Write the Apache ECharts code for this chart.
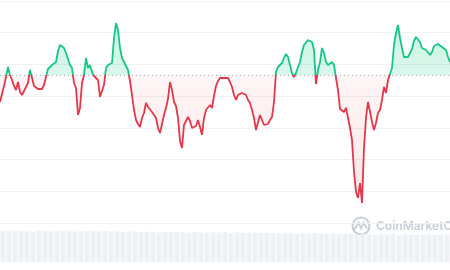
<!DOCTYPE html>
<html>
<head>
<meta charset="utf-8">
<script src="https://cdn.jsdelivr.net/npm/echarts@6/dist/echarts.min.js"></script>
<style>html,body{margin:0;padding:0;background:#fff;}#c{width:450px;height:270px;}</style>
</head>
<body>
<div id="c"></div>
<script>
// price series (chart units), sampled evenly left to right
const prices = [
121,129,137,146,156,148,143,137,133,141,131,128,129,136,140,153,151,137,135,134,
133,134,138,146,154,155,158,158,161,172,178,179,175,170,170,158,155,140,
135,108,115,140,148,165,155,158,151,147,146,143,126,125,138,155,158,157,160,185,
200,193,175,165,161,159,153,142,128,113,103,99,96,105,110,120,116,
116,111,111,105,95,90,91,108,115,124,141,133,121,117,105,82,75,98,100,106,
102,95,95,97,103,96,88,105,113,113,118,115,127,137,142,145,145,145,
144,145,141,136,128,123,128,130,130,129,128,123,120,113,105,93,92,108,103,98,
97,99,103,106,121,151,156,157,160,165,169,166,158,150,146,150,156,
161,171,178,180,183,183,181,173,139,153,161,175,170,161,158,157,161,158,145,133,
114,113,111,115,105,95,83,51,31,25,40,20,75,105,121,122,101,93,
100,110,113,123,136,130,143,149,155,178,190,198,185,175,166,164,166,168,174,182,
186,186,181,175,176,173,175,168,171,177,178,179,178,176,175,173,166,161
];
const baseline = 148;
const volumes = [94,95,93,95,94,92,95,94,93,95,94,95,92,94,93,95,93,94,92,93,91,93,92,90,92,91,89,91,90,92,90,89,91,90,88,90,89,91,88,90,89,88,90,87,89,88,86,88,87,85,87,86,88,85,84,86,85,84,86,83,85,84,82,84,83,85,82,84,83,82,84,83,82,84,83];
const categories = prices.map((_, i) => i);
const volCategories = volumes.map((_, i) => i);

const GREEN = '#16c784', RED = '#e3374b';
const upArea = prices.map(v => Math.max(v, baseline));
const downArea = prices.map(v => Math.min(v, baseline));

const chart = echarts.init(document.getElementById('c'), null, {renderer: 'canvas'});
chart.setOption({
  animation: false,
  grid: [
    {left: 0, right: 0, top: 1, height: 222},
    {left: 0, right: 0, top: 229, height: 33}
  ],
  xAxis: [
    {type: 'category', data: categories, boundaryGap: false, show: false, gridIndex: 0},
    {type: 'category', data: volCategories, show: false, gridIndex: 1}
  ],
  yAxis: [
    {type: 'value', min: 0, max: 222, interval: 222 / 7, gridIndex: 0,
     axisLine: {show: false}, axisTick: {show: false}, axisLabel: {show: false},
     splitLine: {show: true, lineStyle: {color: '#eff1f4', width: 1}}},
    {type: 'value', min: 0, max: 100, gridIndex: 1, show: false, splitLine: {show: false}}
  ],
  series: [
    {type: 'line', data: prices, symbol: 'none', z: 5,
     lineStyle: {width: 1.8, color: RED}},
    {type: 'line', data: upArea, symbol: 'none', z: 2, lineStyle: {width: 0},
     areaStyle: {origin: baseline, color: new echarts.graphic.LinearGradient(0, 0, 0, 1, [
       {offset: 0, color: 'rgba(22,199,132,0.32)'}, {offset: 1, color: 'rgba(22,199,132,0.22)'}])},
     markLine: {silent: true, symbol: 'none', label: {show: false},
       lineStyle: {type: [1, 3], color: '#a3a9b2', width: 1},
       data: [{yAxis: baseline}]}},
    {type: 'line', data: downArea, symbol: 'none', z: 2, lineStyle: {width: 0},
     areaStyle: {origin: baseline, color: new echarts.graphic.LinearGradient(0, 0, 0, 1, [
       {offset: 0, color: 'rgba(234,57,67,0.07)'}, {offset: 1, color: 'rgba(234,57,67,0.18)'}])}},
    {type: 'bar', xAxisIndex: 1, yAxisIndex: 1, data: volumes, barCategoryGap: '18%',
     itemStyle: {color: '#edf0f4'}, silent: true}
  ],
  graphic: [
    {type: 'circle', shape: {cx: 361, cy: 226, r: 8.5}, style: {fill: 'none', stroke: '#c8ced7', lineWidth: 2}},
    {type: 'polyline', shape: {points: [[354.5, 229.5], [358.5, 222.5], [361, 228.5], [363.5, 222.5], [367, 228.5]]},
     style: {fill: 'none', stroke: '#c8ced7', lineWidth: 1.8}},
    {type: 'text', left: 376, top: 220, style: {text: 'CoinMarketCap', fill: '#c8ced7',
      font: '600 12px Inter, "Noto Sans", sans-serif'}}
  ]
});
// colour the price line by side of the baseline
const py = chart.convertToPixel({yAxisIndex: 0}, baseline);
const H = chart.getHeight();
const p = py / H;
chart.setOption({series: [{lineStyle: {color: new echarts.graphic.LinearGradient(0, 0, 0, H, [
  {offset: 0, color: GREEN}, {offset: p, color: GREEN}, {offset: p, color: RED}, {offset: 1, color: RED}], true)}}]});
</script>
</body>
</html>
